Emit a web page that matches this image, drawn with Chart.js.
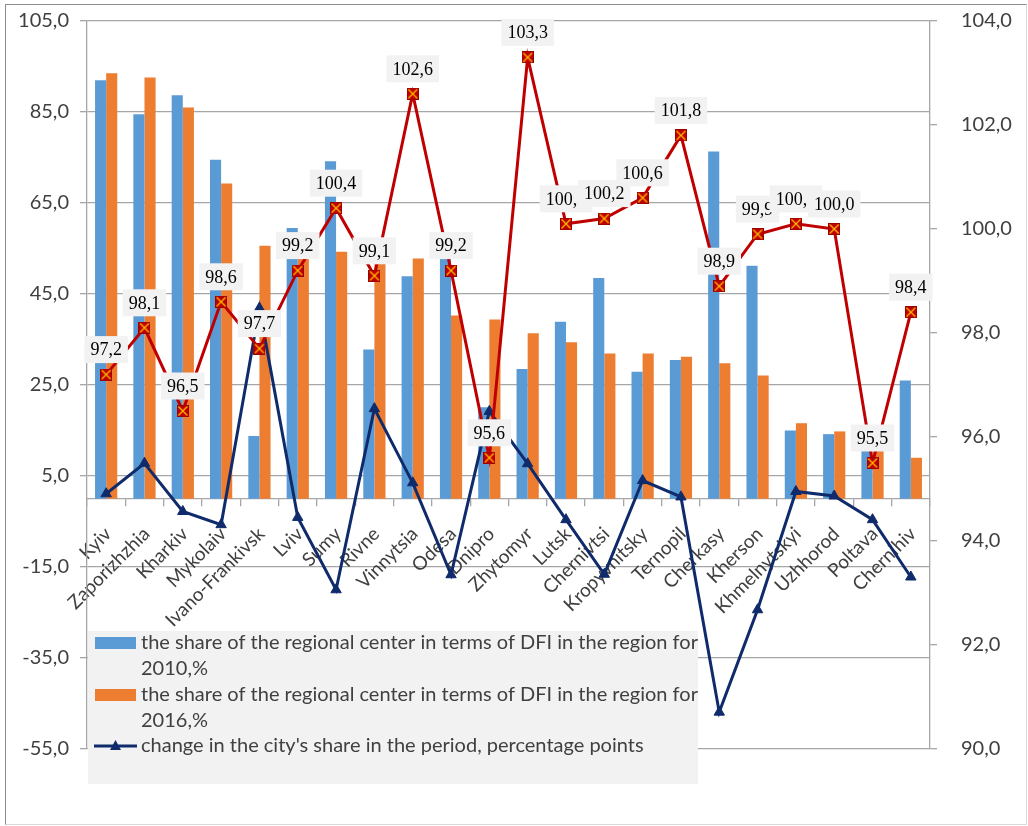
<!DOCTYPE html>
<html>
<head>
<meta charset="utf-8">
<script src="https://cdn.jsdelivr.net/npm/chart.js@4.4.1/dist/chart.umd.min.js"></script>
<style>
  html, body { margin: 0; padding: 0; background: #fff; }
  #wrap { position: absolute; left: 0; top: 0; width: 1028px; height: 826px; }
  #frame {
    position: absolute; left: 5px; top: 4px; width: 1022px; height: 821px;
    border: 1px solid #8c8c8c; border-right-color: #d9d9d9; border-bottom-color: #d9d9d9;
    box-sizing: border-box; pointer-events: none;
  }
</style>
</head>
<body>
<div id="wrap">
  <canvas id="chart" width="1028" height="826"></canvas>
  <div id="frame"></div>
</div>
<script>
const cities = ["Kyiv", "Zaporizhzhia", "Kharkiv", "Mykolaiv", "Ivano-Frankivsk", "Lviv", "Sumy", "Rivne",
  "Vinnytsia", "Odesa", "Dnipro", "Zhytomyr", "Lutsk", "Chernivtsi", "Kropyvnitsky", "Ternopil",
  "Cherkasy", "Kherson", "Khmelnytskyi", "Uzhhorod", "Poltava", "Chernihiv"];

// share of the regional center in DFI of the region, %
const share2010 = [92.0, 84.5, 88.7, 74.5, 13.8, 59.5, 74.2, 32.8, 48.9, 57.0, 20.1,
  28.5, 38.9, 48.5, 27.9, 30.5, 76.3, 51.2, 15.0, 14.2, 15.6, 26.0];
const share2016 = [93.5, 92.6, 86.0, 69.3, 55.6, 55.4, 54.3, 52.6, 52.8, 40.3, 39.4,
  36.4, 34.4, 31.9, 31.9, 31.2, 29.8, 27.1, 16.6, 14.8, 11.0, 9.0];
// change in percentage points (left axis)
const shareChange = [1.1, 7.8, -2.8, -5.7, 41.9, -4.1, -20.0, 19.8, 3.5, -16.7, 19.2,
  7.7, -4.6, -16.6, 4.0, 0.4, -46.9, -24.4, 1.6, 0.6, -4.6, -17.2];
// red series on the right axis
const redIndex = [97.2, 98.1, 96.5, 98.6, 97.7, 99.2, 100.4, 99.1, 102.6, 99.2, 95.6,
  103.3, 100.1, 100.2, 100.6, 101.8, 98.9, 99.9, 100.1, 100.0, 95.5, 98.4];

const leftTicks = [-55, -35, -15, 5, 25, 45, 65, 85, 105];

const seriesNames = [
  "the share of the regional center in terms of DFI in the region for 2010,%",
  "the share of the regional center in terms of DFI in the region for 2016,%",
  "change in the city's share in the period, percentage points"
];

const BLUE = "#5b9bd5";
const ORANGE = "#ed7d31";
const NAVY = "#0f2b6b";
const RED = "#c00000";
const GRID = "#a6a6a6";
const TEXT = "#404040";
const FONT = "Lato, 'Open Sans', sans-serif";

function comma(v) {
  return Number(v).toFixed(1).replace(".", ",");
}

// red square marker with a yellow cross
function makeRedMarker() {
  const c = document.createElement("canvas");
  c.width = 12;
  c.height = 12;
  const g = c.getContext("2d");
  g.fillStyle = RED;
  g.fillRect(0, 0, 12, 12);
  g.strokeStyle = "#ffc000";
  g.lineWidth = 1.2;
  g.beginPath();
  g.moveTo(1.5, 1.5); g.lineTo(10.5, 10.5);
  g.moveTo(10.5, 1.5); g.lineTo(1.5, 10.5);
  g.stroke();
  g.strokeStyle = "#a00000";
  g.lineWidth = 1;
  g.strokeRect(0.5, 0.5, 11, 11);
  return c;
}
const redMarker = makeRedMarker();

// fixed axis widths, and no extra top/bottom room for the tick labels
function fixWidth(w) {
  return (scale) => {
    scale.width = w;
    scale.paddingTop = 0;
    scale.paddingBottom = 0;
  };
}

const legendBox = {
  id: "legendBox",
  beforeDatasetsDraw(chart) {
    const ctx = chart.ctx;
    ctx.save();
    ctx.fillStyle = "#f2f2f2";
    ctx.fillRect(88, 631, 610, 153);
    ctx.font = "20px " + FONT;
    ctx.textBaseline = "middle";
    ctx.textAlign = "left";

    const rows = [643, 695, 746];
    seriesNames.forEach((name, i) => {
      const y = rows[i];
      if (i < 2) {
        ctx.fillStyle = i === 0 ? BLUE : ORANGE;
        ctx.fillRect(95, y - 6, 41, 12);
      } else {
        ctx.strokeStyle = NAVY;
        ctx.lineWidth = 3;
        ctx.beginPath();
        ctx.moveTo(94, y);
        ctx.lineTo(137, y);
        ctx.stroke();
        ctx.fillStyle = NAVY;
        ctx.beginPath();
        ctx.moveTo(115.5, y - 6);
        ctx.lineTo(121, y + 4);
        ctx.lineTo(110, y + 4);
        ctx.closePath();
        ctx.fill();
      }
      // simple word wrap
      const words = name.split(" ");
      let line = "";
      let ly = y;
      ctx.fillStyle = TEXT;
      words.forEach((w) => {
        const test = line ? line + " " + w : w;
        if (ctx.measureText(test).width > 570 && line) {
          ctx.fillText(line, 141, ly);
          line = w;
          ly += 26;
        } else {
          line = test;
        }
      });
      ctx.fillText(line, 141, ly);
    });
    ctx.restore();
  }
};

const redLabels = {
  id: "redLabels",
  afterDatasetsDraw(chart) {
    const ctx = chart.ctx;
    const meta = chart.getDatasetMeta(3);
    ctx.save();
    ctx.font = "18px 'Liberation Serif', serif";
    ctx.textAlign = "center";
    ctx.textBaseline = "middle";
    meta.data.forEach((pt, i) => {
      const txt = comma(redIndex[i]);
      const w = ctx.measureText(txt).width + 12;
      const h = 27;
      const cx = pt.x;
      const cy = pt.y - 25;
      ctx.fillStyle = "#f2f2f2";
      ctx.fillRect(cx - w / 2, cy - h / 2, w, h);
      ctx.fillStyle = "#000";
      ctx.fillText(txt, cx, cy + 1);
    });
    ctx.restore();
  }
};

new Chart(document.getElementById("chart"), {
  type: "bar",
  data: {
    labels: cities,
    datasets: [
      {
        label: seriesNames[0],
        data: share2010,
        backgroundColor: BLUE,
        categoryPercentage: 0.58,
        barPercentage: 1.0,
        yAxisID: "y",
        order: 3
      },
      {
        label: seriesNames[1],
        data: share2016,
        backgroundColor: ORANGE,
        categoryPercentage: 0.58,
        barPercentage: 1.0,
        yAxisID: "y",
        order: 3
      },
      {
        type: "line",
        label: seriesNames[2],
        data: shareChange,
        borderColor: NAVY,
        borderWidth: 3,
        backgroundColor: NAVY,
        pointStyle: "triangle",
        pointRadius: 6,
        pointBorderWidth: 1,
        tension: 0,
        yAxisID: "y",
        order: 2
      },
      {
        type: "line",
        label: "index",
        data: redIndex,
        borderColor: RED,
        borderWidth: 3,
        pointStyle: redMarker,
        tension: 0,
        yAxisID: "y1",
        order: 1
      }
    ]
  },
  options: {
    responsive: false,
    animation: false,
    layout: { padding: { left: 0, right: 0, top: 21, bottom: 77 } },
    plugins: {
      legend: { display: false },
      tooltip: { enabled: false }
    },
    scales: {
      x: {
        position: { y: 0 },
        offset: true,
        grid: { offset: true, drawOnChartArea: false, tickLength: 7, color: GRID, lineWidth: 1.3 },
        border: { color: GRID, width: 1.3 },
        ticks: {
          autoSkip: false,
          minRotation: 45,
          maxRotation: 45,
          padding: 17,
          labelOffset: 2,
          color: TEXT,
          font: { family: FONT, size: 19 }
        }
      },
      y: {
        position: "left",
        min: -55,
        max: 105,
        afterBuildTicks(scale) {
          scale.ticks = leftTicks.map((v) => ({ value: v }));
        },
        afterFit: fixWidth(87),
        grid: { color: GRID, lineWidth: 1.3, tickLength: 7 },
        border: { color: GRID, width: 1.3 },
        ticks: {
          padding: 11,
          color: TEXT,
          font: { family: FONT, size: 20 },
          callback: (v) => comma(v)
        }
      },
      y1: {
        position: "right",
        min: 90,
        max: 104,
        afterFit: fixWidth(98),
        grid: { drawOnChartArea: false, color: GRID, lineWidth: 1.3, tickLength: 7 },
        border: { color: GRID, width: 1.3 },
        ticks: {
          stepSize: 2,
          padding: 24,
          color: TEXT,
          font: { family: FONT, size: 20 },
          callback: (v) => comma(v)
        }
      }
    }
  },
  plugins: [legendBox, redLabels]
});
</script>
</body>
</html>
